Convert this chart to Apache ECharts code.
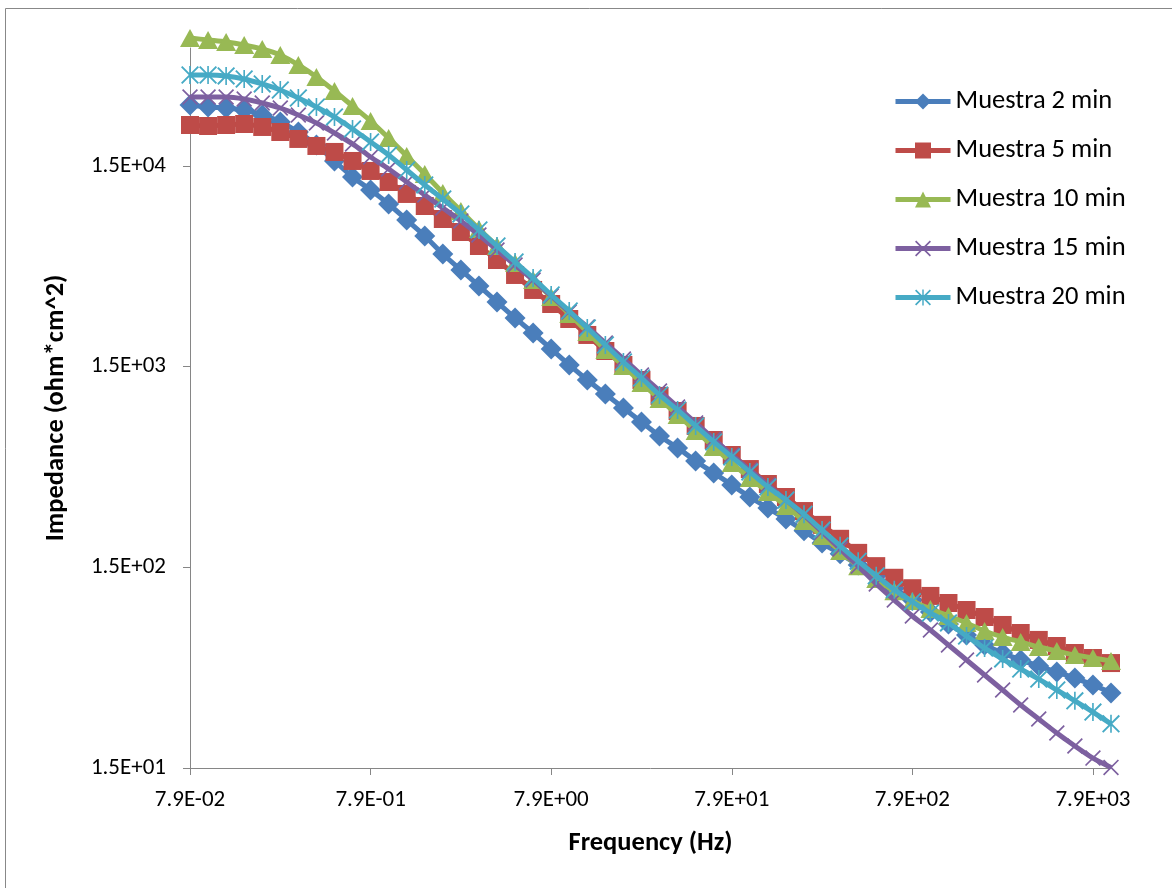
<!DOCTYPE html>
<html>
<head>
<meta charset="utf-8">
<script src="https://cdn.jsdelivr.net/npm/echarts@6/dist/echarts.min.js"></script>
<style>
html,body{margin:0;padding:0;background:#fff;}
#chart{width:1172px;height:888px;}
</style>
</head>
<body>
<div id="chart"></div>
<script>
// Frequencies (Hz), 10 points per decade
var frequencies = [0.0790,0.0995,0.125,0.158,0.199,0.250,0.315,0.397,0.500,0.629,
  0.790,0.995,1.25,1.58,1.99,2.50,3.15,3.97,5.00,6.29,
  7.90,9.95,12.5,15.8,19.9,25.0,31.5,39.7,50.0,62.9,
  79.0,99.5,125,158,199,250,315,397,500,629,
  790,995,1250,1580,1990,2500,3150,3970,5000,6290,
  7900,9950];

var muestra2 = [30170,29480,29140,28490,26900,24830,22130,19070,15870,13210,
  11380,9690,8065,6711,5461,4544,3782,3148,2620,2205,
  1835,1528,1286,1095,933,795,677,590,508,443,
  386,336,296,261,228,198,175,154,136,118,
  103,89.8,78.3,69.0,61.5,56.1,51.8,48.3,45.1,42.1,
  38.9,35.5];

var muestra5 = [23980,23710,23980,24260,23440,22130,20430,18850,17600,15870,
  14150,12470,10870,9469,8157,7027,5984,5096,4291,3613,
  3076,2590,2156,1794,1528,1286,1071,901,759,646,
  544,463,390,336,286,244,208,177,152,133,
  118,108,99.6,91.9,84.8,77.4,70.6,65.2,60.8,56.1,
  53.0,50.0];

var muestra10 = [65070,63590,62160,60040,57350,53540,47740,41600,35430,29820,
  25100,20660,16810,13670,11000,8941,7272,5984,4923,4052,
  3334,2743,2231,1815,1511,1243,1034,861,717,596,
  496,418,356,303,255,215,181,152,131,114,
  102,93.0,85.8,79.2,72.2,67.4,63.7,60.1,57.4,54.8,
  53.0,51.2];

var muestra15 = [33070,33070,33070,32320,30870,29140,26900,24540,21880,19290,
  16620,14480,12470,10740,9255,7973,6788,5716,4812,4052,
  3373,2807,2363,1967,1637,1362,1134,944,786,654,
  544,458,386,325,273,225,185,152,124,103,
  85.8,73.1,61.5,51.8,43.6,36.7,30.9,26.3,22.4,19.3,
  16.8,15.1];

var muestra20 = [42560,42560,42080,40650,38390,35830,32690,29480,26290,22910,
  19740,17000,14310,12050,10260,8641,7191,5984,4980,4146,
  3412,2839,2336,1922,1581,1316,1083,912,759,632,
  532,448,377,325,276,230,192,161,136,116,
  101,88.8,79.2,68.2,59.4,52.4,46.7,41.6,36.7,32.4,
  28.5,24.9];

var seriesNames = ['Muestra 2 min','Muestra 5 min','Muestra 10 min','Muestra 15 min','Muestra 20 min'];
var yTickValues = [15, 150, 1500, 15000];

function fmtE(v){
  var s = Number(v).toExponential(1);
  var parts = s.split('e');
  var e = parseInt(parts[1], 10);
  var d = Math.abs(e);
  return parts[0] + 'E' + (e < 0 ? '-' : '+') + (d < 10 ? '0' : '') + d;
}

var FONT = 'Carlito, Lato, "Noto Sans", sans-serif';
var xPath = 'path://M0,1.5 L1.5,0 L20,18.5 L18.5,20 Z M18.5,0 L20,1.5 L1.5,20 L0,18.5 Z';
var starPath = 'path://M0,1.5 L1.5,0 L20,18.5 L18.5,20 Z M18.5,0 L20,1.5 L1.5,20 L0,18.5 Z M9.1,0 L10.9,0 L10.9,20 L9.1,20 Z';

var colors = ['#4A7EBB','#BE4B48','#98B954','#7D60A0','#46AAC5'];
var symbols = ['diamond','rect','triangle',xPath,starPath];
var sizes = [[21,21],[18,18],[20,18],[16,16],[18,18]];
var datas = [muestra2, muestra5, muestra10, muestra15, muestra20];

var series = seriesNames.map(function(n, i){
  return {
    name: n,
    type: 'line',
    data: datas[i],
    smooth: 0.3,
    clip: false,
    symbol: symbols[i],
    symbolSize: sizes[i],
    showAllSymbol: true,
    lineStyle: {color: colors[i], width: 5},
    itemStyle: {color: colors[i]},
    emphasis: {disabled: true},
    z: 2 + i
  };
});

var chart = echarts.init(document.getElementById('chart'), null, {renderer: 'canvas'});
chart.setOption({
  animation: false,
  backgroundColor: '#ffffff',
  color: colors,
  graphic: [{
    type: 'rect',
    shape: {x: 5.5, y: 8.5, width: 1200, height: 900},
    style: {fill: 'none', stroke: '#888888', lineWidth: 1},
    silent: true, z: 0
  }],
  grid: {left: 190, right: 61, top: 48, bottom: 120},
  legend: {
    orient: 'vertical',
    left: 893,
    top: 88,
    padding: 0,
    itemWidth: 55,
    itemHeight: 20,
    itemGap: 22,
    data: seriesNames,
    lineStyle: {width: 5},
    textStyle: {fontFamily: FONT, fontSize: 26.5, color: '#000'}
  },
  xAxis: {
    type: 'category',
    data: frequencies,
    boundaryGap: false,
    name: 'Frequency (Hz)',
    nameLocation: 'middle',
    nameGap: 62,
    nameTextStyle: {fontFamily: FONT, fontSize: 26.5, fontWeight: 'bold', color: '#000'},
    axisLine: {lineStyle: {color: '#868686', width: 1}},
    axisTick: {interval: 9, length: 7, lineStyle: {color: '#868686'}},
    axisLabel: {interval: 9, margin: 21, fontFamily: FONT, fontSize: 23, color: '#000',
      formatter: function(v){ return fmtE(v); }},
    splitLine: {show: false}
  },
  yAxis: {
    type: 'log',
    logBase: 10,
    min: 15,
    max: 58000,
    name: 'Impedance (ohm*cm^2)',
    nameLocation: 'middle',
    nameGap: 120,
    nameRotate: 90,
    nameTextStyle: {fontFamily: FONT, fontSize: 26.5, fontWeight: 'bold', color: '#000'},
    axisLine: {show: true, lineStyle: {color: '#868686', width: 1}},
    axisTick: {show: true, length: 7, customValues: yTickValues, lineStyle: {color: '#868686'}},
    axisLabel: {margin: 24, fontFamily: FONT, fontSize: 23, color: '#000', customValues: yTickValues,
      formatter: function(v){ return fmtE(v); }},
    splitLine: {show: false}
  },
  series: series
});
</script>
</body>
</html>
